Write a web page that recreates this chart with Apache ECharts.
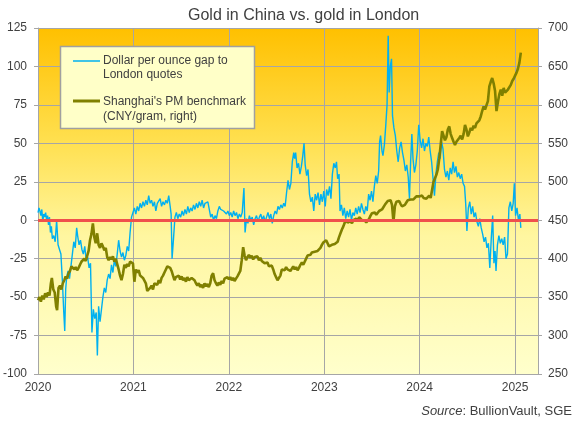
<!DOCTYPE html>
<html>
<head>
<meta charset="utf-8">
<script src="https://cdn.jsdelivr.net/npm/echarts@6/dist/echarts.min.js"></script>
<style>
html,body{margin:0;padding:0;background:#fff;}
#c{width:575px;height:422px;}
</style>
</head>
<body>
<div id="c"></div>
<script>
// ---- Data (decimal years) ----
const yearTicks = [2020, 2021, 2022, 2023, 2024, 2025];

const gapYears = [
2020.000,2020.010,2020.020,2020.030,2020.040,2020.050,2020.060,2020.070,2020.080,2020.090,
2020.100,2020.110,2020.120,2020.130,2020.140,2020.150,2020.165,2020.180,2020.195,2020.210,
2020.225,2020.240,2020.255,2020.270,2020.280,2020.290,2020.300,2020.315,2020.330,2020.345,
2020.360,2020.375,2020.390,2020.405,2020.415,2020.430,2020.445,2020.460,2020.475,2020.490,
2020.505,2020.520,2020.535,2020.550,2020.565,2020.580,2020.595,2020.610,2020.622,2020.635,
2020.650,2020.665,2020.680,2020.695,2020.710,2020.725,2020.740,2020.755,2020.770,2020.785,
2020.800,2020.815,2020.830,2020.845,2020.860,2020.875,2020.890,2020.905,2020.920,2020.935,
2020.950,2020.965,2020.980,2020.995,2021.010,2021.025,2021.040,2021.055,2021.070,2021.085,
2021.100,2021.115,2021.130,2021.145,2021.160,2021.175,2021.190,2021.205,2021.220,2021.235,
2021.250,2021.265,2021.280,2021.295,2021.310,2021.325,2021.340,2021.355,2021.370,2021.385,
2021.395,2021.405,2021.420,2021.435,2021.450,2021.465,2021.480,2021.495,2021.510,2021.525,
2021.540,2021.555,2021.570,2021.585,2021.600,2021.615,2021.630,2021.645,2021.660,2021.675,
2021.690,2021.705,2021.720,2021.735,2021.750,2021.765,2021.780,2021.795,2021.810,2021.825,
2021.840,2021.855,2021.870,2021.885,2021.900,2021.915,2021.930,2021.945,2021.960,2021.975,
2021.990,2022.005,2022.020,2022.035,2022.050,2022.065,2022.080,2022.095,2022.110,2022.125,
2022.140,2022.158,2022.170,2022.185,2022.200,2022.215,2022.230,2022.245,2022.260,2022.275,
2022.290,2022.305,2022.320,2022.335,2022.350,2022.365,2022.380,2022.395,2022.410,2022.425,
2022.440,2022.455,2022.470,2022.485,2022.500,2022.515,2022.530,2022.545,2022.560,2022.575,
2022.590,2022.605,2022.620,2022.635,2022.650,2022.665,2022.680,2022.690,2022.700,2022.715,
2022.730,2022.745,2022.760,2022.775,2022.788,2022.800,2022.815,2022.830,2022.845,2022.860,
2022.875,2022.890,2022.905,2022.920,2022.935,2022.950,2022.965,2022.980,2022.995,2023.010,
2023.025,2023.040,2023.055,2023.070,2023.085,2023.100,2023.115,2023.128,2023.140,2023.155,
2023.165,2023.180,2023.195,2023.210,2023.225,2023.240,2023.255,2023.270,2023.285,2023.300,
2023.315,2023.330,2023.345,2023.360,2023.375,2023.390,2023.405,2023.420,2023.435,2023.450,
2023.465,2023.480,2023.495,2023.510,2023.525,2023.540,2023.555,2023.570,2023.580,2023.590,
2023.605,2023.615,2023.630,2023.645,2023.658,2023.670,2023.680,2023.692,2023.705,2023.715,
2023.730,2023.745,2023.760,2023.775,2023.790,2023.805,2023.820,2023.835,2023.850,2023.865,
2023.880,2023.893,2023.905,2023.918,2023.930,2023.945,2023.960,2023.975,2023.990,2024.005,
2024.020,2024.035,2024.050,2024.065,2024.080,2024.095,2024.110,2024.125,2024.140,2024.155,
2024.170,2024.185,2024.200,2024.215,2024.230,2024.245,2024.260,2024.275,2024.290,2024.305,
2024.320,2024.335,2024.350,2024.365,2024.380,2024.395,2024.410,2024.425,2024.440,2024.455,
2024.470,2024.482,2024.495,2024.510,2024.525,2024.540,2024.555,2024.570,2024.585,2024.600,
2024.615,2024.630,2024.645,2024.660,2024.675,2024.690,2024.705,2024.720,2024.735,2024.750,
2024.765,2024.778,2024.790,2024.800,2024.815,2024.830,2024.845,2024.860,2024.875,2024.890,
2024.905,2024.920,2024.935,2024.950,2024.965,2024.980,2024.992,2025.005,2025.020,2025.035,
2025.050,2025.060
];
const gapValues = [
5,8,6,3,7,-1,4,2,5,0,
3,-3,2,-8,-4,-12,-10,-14,0,-16,
-19,-22,-39,-60,-72,-45,-37,-33,-38,-30,
-22,-14,-18,-5,-10,-16,-13,-19,-22,-17,
-26,-24,-31,-28,-73,-58,-64,-60,-88,-56,
-66,-58,-50,-44,-47,-39,-35,-38,-29,-34,
-26,-30,-22,-13,-20,-24,-21,-26,-23,-17,
-20,-8,2,5,8,4,9,6,11,8,
12,9,13,10,16,11,13,9,12,6,
11,10,14,9,12,10,13,11,16,9,
4,-25,-12,2,5,1,4,2,6,3,
7,4,9,5,8,6,10,7,11,8,
12,9,13,8,11,10,12,7,2,4,
0,3,1,6,9,7,8,6,7,4,
6,3,5,2,6,3,5,1,4,2,
5,21,-8,1,-2,3,0,2,-3,1,
3,-1,2,4,0,3,-1,2,5,1,
4,-2,3,6,4,9,7,10,8,11,
9,18,26,20,24,38,44,40,44,34,
37,30,35,42,50,36,29,33,17,12,
15,6,17,13,18,10,17,12,19,9,
20,16,22,14,30,37,34,38,27,30,
6,10,3,8,1,6,2,7,0,5,
3,8,4,9,5,11,7,4,9,6,
17,13,19,12,22,29,24,32,51,55,
45,42,49,62,75,120,83,100,105,68,
60,55,45,38,47,51,44,39,32,36,
28,14,38,56,40,31,36,45,62,52,
47,53,45,50,48,54,45,38,27,16,
30,38,44,40,51,46,33,28,32,26,
34,30,38,31,35,28,31,27,30,24,
22,11,-7,8,12,4,9,2,5,-1,
-4,1,-5,-9,-14,-11,-18,-15,-31,-12,
3,-28,-20,-33,-16,-10,-15,-12,-16,-11,
-25,-22,8,12,6,11,24,3,8,0,
4,-5
];

const cnyYears = [
2020.000,2020.015,2020.030,2020.045,2020.060,2020.075,2020.090,2020.105,2020.120,2020.135,
2020.145,2020.160,2020.175,2020.190,2020.200,2020.215,2020.230,2020.245,2020.260,2020.275,
2020.290,2020.305,2020.320,2020.335,2020.350,2020.365,2020.380,2020.395,2020.410,2020.425,
2020.440,2020.455,2020.470,2020.485,2020.500,2020.515,2020.530,2020.545,2020.560,2020.575,
2020.590,2020.605,2020.620,2020.635,2020.650,2020.665,2020.680,2020.695,2020.710,2020.725,
2020.740,2020.755,2020.770,2020.785,2020.800,2020.815,2020.830,2020.845,2020.860,2020.875,
2020.890,2020.905,2020.920,2020.935,2020.950,2020.965,2020.980,2020.995,2021.010,2021.025,
2021.040,2021.055,2021.070,2021.085,2021.100,2021.115,2021.130,2021.145,2021.160,2021.175,
2021.190,2021.205,2021.220,2021.235,2021.250,2021.265,2021.280,2021.295,2021.310,2021.325,
2021.340,2021.355,2021.370,2021.385,2021.400,2021.415,2021.430,2021.445,2021.460,2021.475,
2021.490,2021.505,2021.520,2021.535,2021.550,2021.565,2021.580,2021.595,2021.610,2021.625,
2021.640,2021.655,2021.670,2021.685,2021.700,2021.715,2021.730,2021.745,2021.760,2021.775,
2021.790,2021.805,2021.820,2021.835,2021.850,2021.865,2021.880,2021.895,2021.910,2021.925,
2021.940,2021.955,2021.970,2021.985,2022.000,2022.015,2022.030,2022.045,2022.060,2022.075,
2022.090,2022.105,2022.120,2022.135,2022.150,2022.165,2022.180,2022.195,2022.210,2022.225,
2022.240,2022.255,2022.270,2022.285,2022.300,2022.315,2022.330,2022.345,2022.360,2022.375,
2022.390,2022.405,2022.420,2022.435,2022.450,2022.465,2022.480,2022.495,2022.510,2022.525,
2022.540,2022.555,2022.570,2022.585,2022.600,2022.615,2022.630,2022.645,2022.660,2022.675,
2022.690,2022.705,2022.720,2022.735,2022.750,2022.765,2022.780,2022.795,2022.810,2022.825,
2022.840,2022.855,2022.870,2022.885,2022.900,2022.915,2022.930,2022.945,2022.960,2022.975,
2022.990,2023.005,2023.020,2023.035,2023.050,2023.065,2023.080,2023.095,2023.110,2023.125,
2023.140,2023.155,2023.170,2023.185,2023.200,2023.215,2023.230,2023.245,2023.260,2023.275,
2023.290,2023.305,2023.320,2023.335,2023.350,2023.365,2023.380,2023.395,2023.410,2023.425,
2023.440,2023.455,2023.470,2023.485,2023.500,2023.515,2023.530,2023.545,2023.560,2023.575,
2023.590,2023.605,2023.620,2023.635,2023.650,2023.665,2023.680,2023.695,2023.710,2023.725,
2023.740,2023.755,2023.770,2023.785,2023.800,2023.815,2023.830,2023.845,2023.860,2023.875,
2023.890,2023.905,2023.920,2023.935,2023.950,2023.965,2023.980,2023.995,2024.010,2024.025,
2024.040,2024.055,2024.070,2024.085,2024.100,2024.115,2024.130,2024.145,2024.160,2024.175,
2024.190,2024.205,2024.220,2024.235,2024.250,2024.265,2024.280,2024.295,2024.310,2024.325,
2024.340,2024.355,2024.370,2024.385,2024.400,2024.415,2024.430,2024.445,2024.460,2024.475,
2024.490,2024.505,2024.520,2024.535,2024.550,2024.565,2024.580,2024.595,2024.610,2024.625,
2024.640,2024.655,2024.670,2024.685,2024.700,2024.715,2024.730,2024.745,2024.760,2024.775,
2024.790,2024.805,2024.820,2024.835,2024.850,2024.865,2024.880,2024.895,2024.910,2024.925,
2024.940,2024.955,2024.970,2024.985,2025.000,2025.015,2025.030,2025.045,2025.060
];
const cnyValues = [
346,350,344,352,347,355,350,356,352,368,
375,360,356,338,333,362,365,360,368,372,
377,374,381,384,390,392,386,389,385,388,
392,396,398,400,397,399,410,424,432,446,
428,420,433,418,414,420,416,411,414,402,
398,402,399,403,396,400,393,386,378,372,
380,392,388,393,390,396,398,394,370,386,
382,385,378,380,375,377,368,358,356,362,
365,360,368,370,366,372,368,375,378,382,
386,390,392,388,384,378,372,376,374,378,
373,377,372,375,370,376,372,370,375,377,
372,368,365,368,363,366,362,368,364,367,
363,368,378,381,372,368,365,369,366,371,
368,374,372,376,373,376,372,375,371,374,
377,379,384,398,415,404,398,402,405,401,
404,399,402,400,403,398,401,397,399,394,
392,395,390,388,391,386,380,376,372,370,
378,386,388,385,389,386,388,384,387,390,
386,389,385,388,392,395,392,394,400,404,
406,405,408,406,409,407,410,412,414,418,
421,420,424,422,416,414,418,416,419,417,
422,428,433,438,442,447,450,447,445,449,
446,450,448,452,449,454,452,450,448,450,
447,449,452,456,459,457,460,457,459,462,
460,464,466,470,472,475,473,476,470,448,
468,474,476,475,471,468,466,470,473,476,
474,477,479,477,479,481,479,481,480,482,
479,481,478,480,482,479,481,500,498,509,
516,530,548,566,560,554,558,568,572,562,
557,552,548,552,550,557,560,555,562,574,
568,559,564,570,567,573,570,576,574,580,
585,592,598,594,592,605,624,630,635,628,
618,592,604,614,620,612,622,616,614,620,
618,626,631,634,638,642,647,655,668
];

const leftTicks = { min: -100, max: 125, step: 25 };
const rightTicks = { min: 250, max: 700, step: 50 };

const gapName = 'Dollar per ounce gap to\nLondon quotes';
const cnyName = "Shanghai's PM benchmark\n(CNY/gram, right)";

// ---- Chart ----
const FONT = "'Liberation Sans', Arial, sans-serif";
const TXT = '#404040';
const GRIDC = '#A6A6A6';
const BLUE = '#00B0F0';
const OLIVE = '#808000';
const RED = '#F0504C';

const chart = echarts.init(document.getElementById('c'), null, { renderer: 'canvas' });

const gapData = gapYears.map((y, i) => [y, gapValues[i]]);
const cnyData = cnyYears.map((y, i) => [y, cnyValues[i]]);

chart.setOption({
  animation: false,
  textStyle: { fontFamily: FONT },
  title: {
    text: 'Gold in China vs. gold in London',
    left: 183, top: 3,
    textStyle: { fontFamily: FONT, fontSize: 16, fontWeight: 'normal', color: TXT }
  },
  grid: {
    left: 37, right: 37, top: 28, bottom: 48,
    show: true,
    borderWidth: 0,
    backgroundColor: {
      type: 'linear', x: 0, y: 0, x2: 0, y2: 1,
      colorStops: [
        { offset: 0, color: '#FFC000' },
        { offset: 0.33, color: '#FFE050' },
        { offset: 0.6, color: '#FFF6A0' },
        { offset: 1, color: '#FFFFCC' }
      ]
    }
  },
  xAxis: {
    type: 'value',
    min: yearTicks[0], max: 2025.24, interval: 1,
    axisLine: { show: true, lineStyle: { color: GRIDC, width: 1 } },
    axisTick: { show: true, length: 4, lineStyle: { color: GRIDC } },
    splitLine: { show: true, lineStyle: { color: GRIDC, width: 1 } },
    axisLabel: {
      margin: 8, color: TXT, fontSize: 12, fontFamily: FONT,
      formatter: v => (yearTicks.indexOf(v) >= 0 ? String(v) : '')
    }
  },
  yAxis: [
    {
      type: 'value', position: 'left',
      min: leftTicks.min, max: leftTicks.max, interval: leftTicks.step,
      axisLine: { show: true, lineStyle: { color: GRIDC, width: 1 } },
      axisTick: { show: true, length: 4, lineStyle: { color: GRIDC } },
      splitLine: { show: true, lineStyle: { color: GRIDC, width: 1 } },
      axisLabel: { margin: 11, color: TXT, fontSize: 12, fontFamily: FONT }
    },
    {
      type: 'value', position: 'right',
      min: rightTicks.min, max: rightTicks.max, interval: rightTicks.step,
      axisLine: { show: true, lineStyle: { color: GRIDC, width: 1 } },
      axisTick: { show: true, length: 4, lineStyle: { color: GRIDC } },
      splitLine: { show: false },
      axisLabel: { margin: 10, color: TXT, fontSize: 12, fontFamily: FONT }
    }
  ],
  series: [
    {
      name: gapName, type: 'line', yAxisIndex: 0, data: gapData,
      showSymbol: false, symbol: 'none', z: 2,
      lineStyle: { color: BLUE, width: 1.4 },
      markLine: {
        silent: true, symbol: 'none', label: { show: false },
        lineStyle: { color: RED, width: 3, type: 'solid' },
        data: [{ yAxis: 0 }]
      }
    },
    {
      name: cnyName, type: 'line', yAxisIndex: 1, data: cnyData,
      showSymbol: false, symbol: 'none', z: 3,
      lineStyle: { color: OLIVE, width: 2.6 }
    }
  ],
  graphic: [
    { type: 'rect', z: 100, shape: { x: 60.5, y: 46.5, width: 194, height: 82 },
      style: { fill: '#FFFFC8', stroke: '#A0A0A0', lineWidth: 1.5 } },
    { type: 'line', z: 101, shape: { x1: 73, y1: 61, x2: 100, y2: 61 },
      style: { stroke: BLUE, lineWidth: 1.5 } },
    { type: 'text', z: 101, x: 103, y: 54,
      style: { text: gapName, fill: TXT, font: '12px ' + FONT, lineHeight: 14, textVerticalAlign: 'top' } },
    { type: 'line', z: 101, shape: { x1: 73, y1: 101, x2: 100, y2: 101 },
      style: { stroke: OLIVE, lineWidth: 3 } },
    { type: 'text', z: 101, x: 103, y: 94,
      style: { text: cnyName, fill: TXT, font: '12px ' + FONT, lineHeight: 15, textVerticalAlign: 'top' } },
    {
      type: 'text', right: 3, top: 405, z: 100,
      style: {
        text: '{i|Source}: BullionVault, SGE',
        fill: TXT, font: '13px ' + FONT,
        rich: { i: { fontStyle: 'italic', fontSize: 13, fontFamily: FONT, fill: TXT } }
      }
    }
  ]
});
</script>
</body>
</html>
